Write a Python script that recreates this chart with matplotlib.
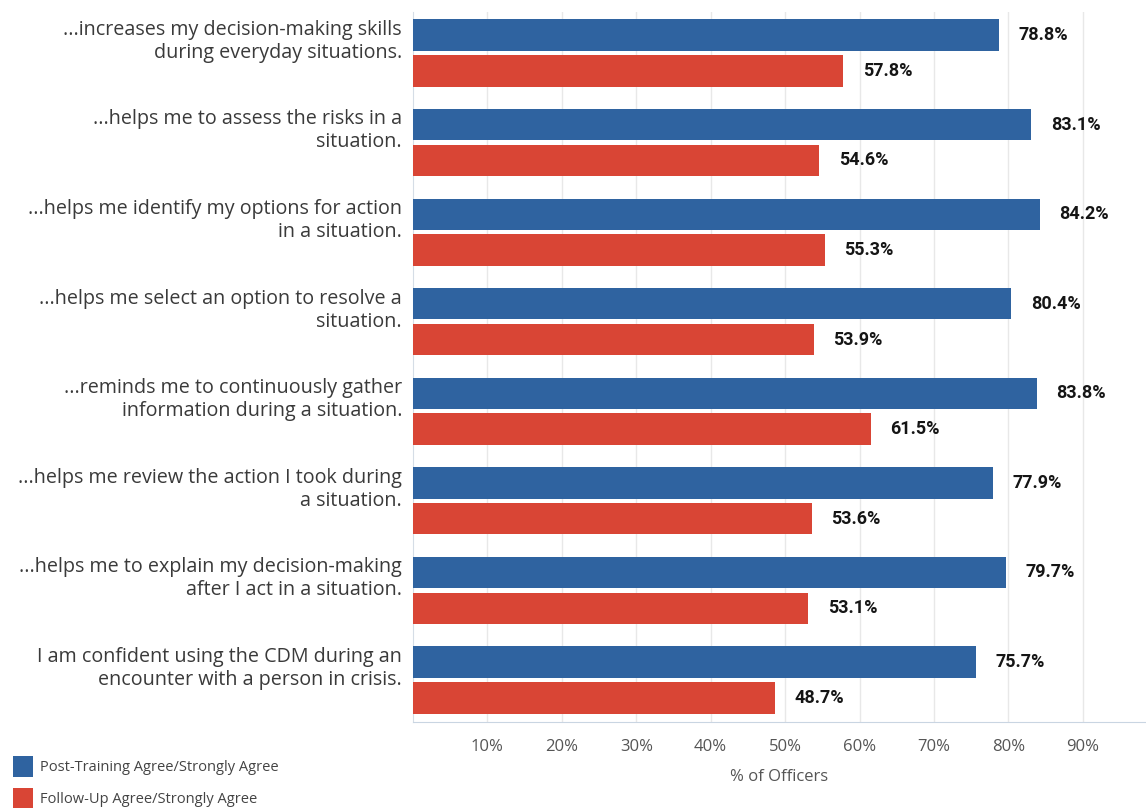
import matplotlib
matplotlib.use("Agg")
import matplotlib.pyplot as plt
import matplotlib.transforms as mtransforms

# statements (survey items), top to bottom
statements = [
    "...increases my decision-making skills\nduring everyday situations.",
    "...helps me to assess the risks in a\nsituation.",
    "...helps me identify my options for action\nin a situation.",
    "...helps me select an option to resolve a\nsituation.",
    "...reminds me to continuously gather\ninformation during a situation.",
    "...helps me review the action I took during\na situation.",
    "...helps me to explain my decision-making\nafter I act in a situation.",
    "I am confident using the CDM during an\nencounter with a person in crisis.",
]
post_training = [78.8, 83.1, 84.2, 80.4, 83.8, 77.9, 79.7, 75.7]
follow_up = [57.8, 54.6, 55.3, 53.9, 61.5, 53.6, 53.1, 48.7]
series_names = ["Post-Training Agree/Strongly Agree", "Follow-Up Agree/Strongly Agree"]
xticks = [10, 20, 30, 40, 50, 60, 70, 80, 90]

blue = "#2f63a0"
red = "#d94535"
text_col = "#3a3a3a"

fig = plt.figure(figsize=(11.46, 8.10), dpi=100)
ax = fig.add_axes([0.3604, 0.1086, 0.6396, 0.8766])

ypos = list(range(len(statements)))
b1 = ax.barh([y - 0.2 for y in ypos], post_training, height=0.35, color=blue,
             label=series_names[0], zorder=3)
b2 = ax.barh([y + 0.2 for y in ypos], follow_up, height=0.35, color=red,
             label=series_names[1], zorder=3)

# value labels
for bars, vals in ((b1, post_training), (b2, follow_up)):
    for rect, v in zip(bars, vals):
        ax.annotate(f"{v:.1f}%", (rect.get_width(), rect.get_y() + rect.get_height() / 2),
                    xytext=(14, 0), textcoords="offset points", ha="left", va="center",
                    fontsize=13, fontweight="bold", family="Roboto", color="#151515")

# category labels
trans = mtransforms.blended_transform_factory(ax.transAxes, ax.transData)
for y, s in zip(ypos, statements):
    ax.text(-0.015, y - 0.13, s, transform=trans, ha="right", va="center",
            multialignment="right", fontsize=14.2, family="Open Sans",
            color=text_col, linespacing=1.2)

ax.set_xlim(0, 98.5)
ax.set_ylim(7.47, -0.458)
ax.set_yticks([])
ax.set_xticks(xticks)
ax.set_xticklabels([f"{t}%" for t in xticks], family="Open Sans", fontsize=12, color="#555555")
ax.tick_params(axis="x", length=0, pad=12)
ax.set_xlabel("% of Officers", family="Open Sans", fontsize=12, color="#555555", labelpad=10)
ax.grid(axis="x", color="#e8e8e8", linewidth=1, zorder=0)

for side in ("top", "right"):
    ax.spines[side].set_visible(False)
ax.spines["left"].set_color("#d5dde6")
ax.spines["bottom"].set_color("#c9d5e2")

fig.legend(handles=[b1, b2], labels=series_names, loc="lower left",
           bbox_to_anchor=(0.0, -0.014), frameon=False, handlelength=1.35,
           handleheight=1.8, handletextpad=0.5, labelspacing=0.75,
           prop={"family": "Open Sans", "size": 10.5}, labelcolor="#444444")

fig.savefig("out.png", dpi=100)
